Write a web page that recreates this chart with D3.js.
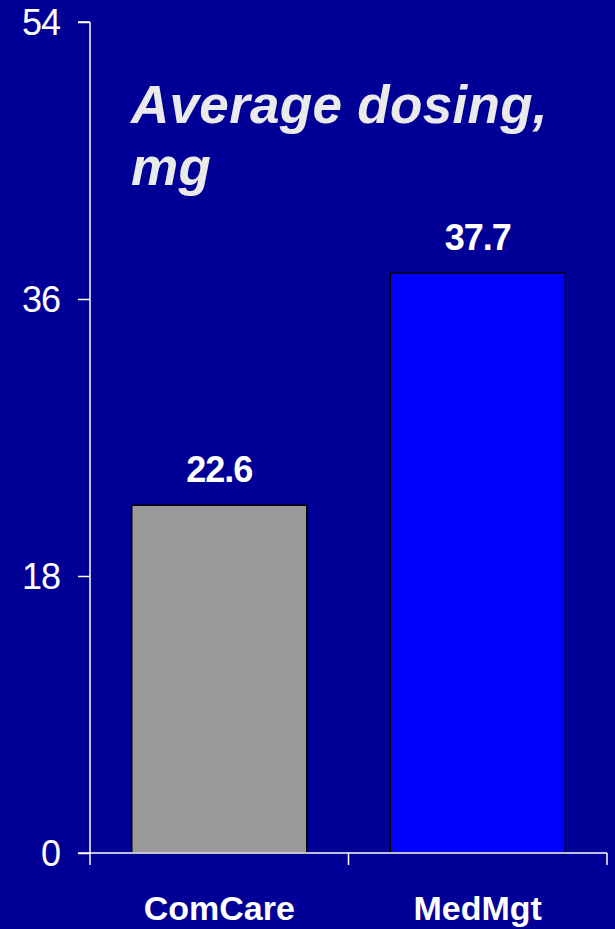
<!DOCTYPE html>
<html>
<head>
<meta charset="utf-8">
<script src="https://cdn.jsdelivr.net/npm/d3@7"></script>
<style>
  html, body { margin: 0; padding: 0; background: #000096; }
  svg { display: block; }
</style>
</head>
<body>
<svg id="chart" width="615" height="929"></svg>
<script>
// Average dosing per arm
const categories = ["ComCare", "MedMgt"];
const values = [22.6, 37.7];
const barColors = ["#999999", "#0000FF"];
const yTicks = [0, 18, 36, 54];
const titleLines = ["Average dosing,", "mg"];

const W = 615, H = 929;
const margin = { left: 90, right: 8, top: 22, bottom: 76 };
const svg = d3.select("#chart");

svg.append("rect").attr("width", W).attr("height", H).attr("fill", "#000096");

const x = d3.scaleBand()
  .domain(categories)
  .range([margin.left, W - margin.right])
  .paddingInner(0.323)
  .paddingOuter(0.1615);

const y = d3.scaleLinear()
  .domain([0, 54])
  .range([H - margin.bottom, margin.top]);

const font = "'Liberation Sans', Arial, sans-serif";

// Bars
svg.append("g").selectAll("rect")
  .data(values)
  .join("rect")
  .attr("x", (d, i) => x(categories[i]))
  .attr("y", d => y(d))
  .attr("width", x.bandwidth())
  .attr("height", d => y(0) - y(d))
  .attr("fill", (d, i) => barColors[i])
  .attr("stroke", "#000")
  .attr("stroke-width", 1.5);

// Value labels
svg.append("g").selectAll("text")
  .data(values)
  .join("text")
  .attr("x", (d, i) => x(categories[i]) + x.bandwidth() / 2)
  .attr("y", d => y(d) - 23)
  .attr("text-anchor", "middle")
  .attr("fill", "#ffffff")
  .attr("font-family", font)
  .attr("font-weight", "bold")
  .attr("font-size", 36)
  .attr("letter-spacing", -1)
  .text(d => d.toFixed(1));

// Y axis
const yAxis = d3.axisLeft(y)
  .tickValues(yTicks)
  .tickSize(12)
  .tickPadding(18)
  .tickFormat(d3.format("d"));
const gy = svg.append("g")
  .attr("transform", `translate(${margin.left},0)`)
  .call(yAxis);
gy.select(".domain").attr("stroke", "#fff").attr("stroke-width", 1.5)
  .attr("d", `M0,${y(54)}H-12M0,${y(54)}V${y(0)}`);
gy.selectAll(".tick line").attr("stroke", "#fff").attr("stroke-width", 1.5);
gy.selectAll(".tick text")
  .attr("fill", "#fff")
  .attr("font-family", font)
  .attr("font-size", 36)
  .attr("letter-spacing", -1)
  .attr("dy", "0.36em");

// X axis: ticks at band boundaries
const xr = x.range();
const boundaries = d3.range(categories.length + 1).map(i => xr[0] + i * (xr[1] - xr[0]) / categories.length);
const gx = svg.append("g");
gx.append("line")
  .attr("x1", margin.left - 12).attr("x2", xr[1])
  .attr("y1", y(0)).attr("y2", y(0))
  .attr("stroke", "#fff").attr("stroke-width", 1.5);
gx.selectAll("line.tk")
  .data(boundaries)
  .join("line")
  .attr("class", "tk")
  .attr("x1", d => d).attr("x2", d => d)
  .attr("y1", y(0)).attr("y2", y(0) + 12)
  .attr("stroke", "#fff").attr("stroke-width", 1.5);
gx.selectAll("text")
  .data(categories)
  .join("text")
  .attr("x", d => x(d) + x.bandwidth() / 2)
  .attr("y", 920)
  .attr("text-anchor", "middle")
  .attr("fill", "#fff")
  .attr("font-family", font)
  .attr("font-weight", "bold")
  .attr("font-size", 34)
  .text(d => d);

// Title
svg.append("g").selectAll("text")
  .data(titleLines)
  .join("text")
  .attr("x", 131)
  .attr("y", (d, i) => 123 + i * 62)
  .attr("fill", "#EAEAEA")
  .attr("font-family", font)
  .attr("font-weight", "bold")
  .attr("font-style", "italic")
  .attr("font-size", 53)
  .attr("letter-spacing", 0.3)
  .text(d => d);
</script>
</body>
</html>
